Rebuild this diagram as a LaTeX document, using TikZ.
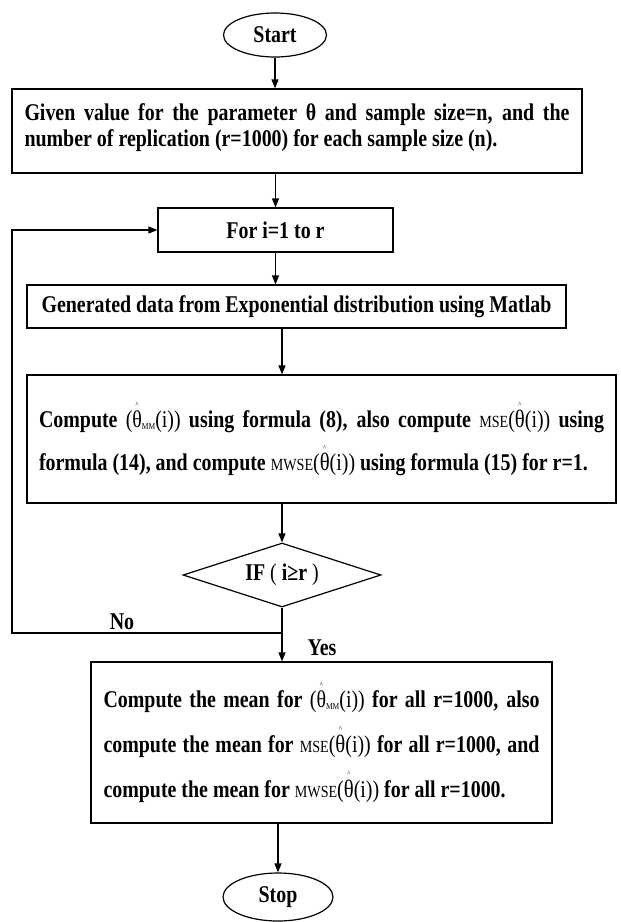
\documentclass[tikz,border=0pt]{standalone}
\usepackage{fontspec}
\setmainfont{Liberation Serif}[FakeStretch=0.83]
\usetikzlibrary{shapes.geometric, arrows.meta}
\hyphenpenalty=10000
\exhyphenpenalty=10000

% estimator with a small hat set well above it
\newcommand{\hatted}[1]{\leavevmode\vbox{\offinterlineskip\halign{\hfil##\hfil\cr
  {\fontsize{8}{8}\selectfont\textasciicircum}\cr\noalign{\kern3pt}#1\cr}}}
\newcommand{\estmm}{{\mdseries(\hatted{θ}\raisebox{-2pt}{\fontsize{9}{9}\selectfont MM}(i))}}
\newcommand{\estth}{{\mdseries(\hatted{\fontsize{25}{25}\selectfont θ}(i))}}
\newcommand{\mse}{{\mdseries\fontsize{17}{17}\selectfont MSE}}
\newcommand{\mwse}{{\mdseries\fontsize{17}{17}\selectfont MWSE}}

\begin{document}
\begin{tikzpicture}[x=1pt, y=-1pt, line width=1.2pt,
  font=\fontsize{24}{26}\selectfont\bfseries,
  >={Triangle[length=9pt,width=7pt]},
  terminal/.style={draw, ellipse, inner sep=0pt},
  process/.style={draw, rectangle, inner sep=0pt},
  decision/.style={draw, diamond, aspect=3, inner sep=0pt,
    minimum width=198pt, minimum height=64pt}]
  \useasboundingbox (0,0) rectangle (621,922);

  % Flow chart nodes
  \node[terminal, minimum width=103pt, minimum height=44pt] (start) at (275,35) {Start};
  \node[process, minimum width=570pt, minimum height=84pt, text width=545pt,
    align=justify] (given) at (297,131)
    {Given value for the parameter θ and sample size=n, and the\linebreak
     number of replication (r=1000) for each sample size (n).\rule[-12pt]{0pt}{0pt}};
  \node[process, minimum width=235pt, minimum height=44pt] (forloop) at (275.5,230)
    {For i=1 to r};
  \node[process, minimum width=539pt, minimum height=43pt] (gen) at (296.5,306.5)
    {Generated data from Exponential distribution using Matlab};
  \node[process, minimum width=589pt, minimum height=128pt, text width=565pt,
    align=justify, font=\fontsize{24}{43}\selectfont\bfseries] (comp) at (321.5,439)
    {\parfillskip=0pt Compute \estmm{} using formula (8), also compute \mse\estth{} using\linebreak
     formula (14), and compute \mwse\estth{} using formula (15) for r=1.};
  \node[decision] (test) at (282,575) {IF {\mdseries(} i≥r {\mdseries)}};
  \node[process, minimum width=461pt, minimum height=161pt, text width=436pt,
    align=justify, font=\fontsize{24}{45}\selectfont\bfseries] (final) at (321.5,742.5)
    {Compute the mean for \estmm{} for all r=1000, also\linebreak
     compute the mean for \mse\estth{} for all r=1000, and\linebreak
     compute the mean for \mwse\estth{} for all r=1000.};
  \node[terminal, minimum width=110pt, minimum height=48pt] (stop) at (278,897) {Stop};

  % Branch labels
  \node (no) at (122,622) {No};
  \node (yes) at (322,648) {Yes};

  % Connectors
  \coordinate (noturn) at (12,633);
  \coordinate (split) at (test.south |- noturn);
  \draw[->] (start.south) -- (start.south |- given.north);
  \draw[->] (forloop.north |- given.south) -- (forloop.north);
  \draw[->] (forloop.south) -- (forloop.south |- gen.north);
  \draw[->] (test.north |- gen.south) -- (test.north |- comp.north);
  \draw[->] (test.north |- comp.south) -- (test.north);
  \draw[->] (test.south) -- (test.south |- final.north);
  \draw[->] (split) -- (noturn) |- (forloop.west);
  \draw[->] (stop.north |- final.south) -- (stop.north);
\end{tikzpicture}
\end{document}
